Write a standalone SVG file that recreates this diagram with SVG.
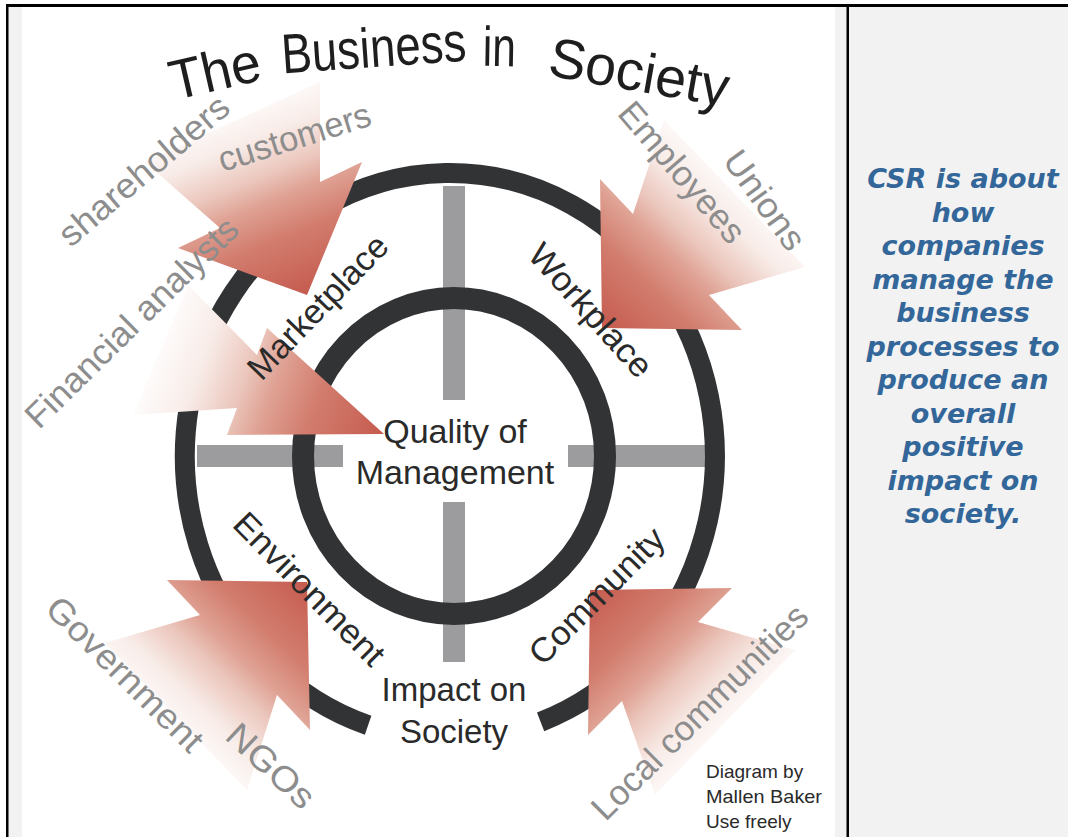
<svg xmlns="http://www.w3.org/2000/svg" width="1068" height="837" viewBox="0 0 1068 837">
<style>
.ring{fill:none;stroke:#323335}
.bar{fill:#9c9c9e}
.ttl{font-family:"Liberation Sans",Arial,sans-serif;fill:#1e1e1e;font-size:56px;text-anchor:middle}
.lbl{font-family:"Liberation Sans",Arial,sans-serif;fill:#2a2a2a;font-size:34px;text-anchor:middle}
.out{font-family:"Liberation Sans",Arial,sans-serif;fill:#8d8d8d;font-size:35px;text-anchor:middle}
.cred{font-family:"Liberation Sans",Arial,sans-serif;fill:#2a2a2a;font-size:19px}
.csr{font-family:"DejaVu Sans",Verdana,sans-serif;font-weight:bold;font-style:italic;fill:#336699;font-size:27px;text-anchor:middle}
</style>
<defs>
<linearGradient id="gA" gradientUnits="userSpaceOnUse" x1="307" y1="295" x2="227" y2="101">
<stop offset="0" stop-color="#c55b4f"/><stop offset="0.3" stop-color="#d27d6e"/><stop offset="0.48" stop-color="#dfa294"/><stop offset="0.6" stop-color="#ebc6bc"/><stop offset="0.78" stop-color="#f8ece8"/><stop offset="1" stop-color="#ffffff"/>
</linearGradient>
<linearGradient id="gB" gradientUnits="userSpaceOnUse" x1="602" y1="328" x2="746" y2="175">
<stop offset="0" stop-color="#c55b4f"/><stop offset="0.3" stop-color="#d27d6e"/><stop offset="0.48" stop-color="#dfa294"/><stop offset="0.6" stop-color="#ebc6bc"/><stop offset="0.78" stop-color="#f8ece8"/><stop offset="1" stop-color="#ffffff"/>
</linearGradient>
<linearGradient id="gC" gradientUnits="userSpaceOnUse" x1="307" y1="582" x2="163" y2="735">
<stop offset="0" stop-color="#c55b4f"/><stop offset="0.3" stop-color="#d27d6e"/><stop offset="0.48" stop-color="#dfa294"/><stop offset="0.6" stop-color="#ebc6bc"/><stop offset="0.78" stop-color="#f8ece8"/><stop offset="1" stop-color="#ffffff"/>
</linearGradient>
<linearGradient id="gD" gradientUnits="userSpaceOnUse" x1="590" y1="590" x2="737" y2="740">
<stop offset="0" stop-color="#c55b4f"/><stop offset="0.3" stop-color="#d27d6e"/><stop offset="0.48" stop-color="#dfa294"/><stop offset="0.6" stop-color="#ebc6bc"/><stop offset="0.78" stop-color="#f8ece8"/><stop offset="1" stop-color="#ffffff"/>
</linearGradient>
<linearGradient id="gE" gradientUnits="userSpaceOnUse" x1="384" y1="434" x2="150" y2="345">
<stop offset="0" stop-color="#c55b4f"/><stop offset="0.3" stop-color="#d27d6e"/><stop offset="0.48" stop-color="#dfa294"/><stop offset="0.6" stop-color="#ebc6bc"/><stop offset="0.78" stop-color="#f8ece8"/><stop offset="1" stop-color="#ffffff"/>
</linearGradient>
</defs>

<g id="frame">
<rect x="0" y="0" width="1068" height="837" fill="#ffffff"/>
<rect x="8" y="7" width="839" height="830" fill="#f2f2f2"/>
<rect x="849" y="7" width="219" height="830" fill="#f2f2f2"/>
<rect x="22" y="7" width="813" height="830" fill="#ffffff"/>
<rect x="6" y="4" width="1062" height="3" fill="#000"/>
<rect x="6" y="4" width="2.5" height="833" fill="#000"/>
<rect x="846.5" y="4" width="2.5" height="833" fill="#000"/>
</g>

<g id="title">
<text class="ttl" transform="translate(219,90) rotate(-13)" textLength="92" lengthAdjust="spacingAndGlyphs">The</text>
<text class="ttl" transform="translate(375,67) rotate(-4)" textLength="185" lengthAdjust="spacingAndGlyphs">Business</text>
<text class="ttl" transform="translate(499,66) rotate(1)" textLength="33" lengthAdjust="spacingAndGlyphs">in</text>
<text class="ttl" transform="translate(636,91) rotate(10)" textLength="182" lengthAdjust="spacingAndGlyphs">Society</text>
</g>

<g id="cross">
<rect class="bar" x="443" y="186" width="22" height="214"/>
<rect class="bar" x="443" y="502" width="22" height="160"/>
<rect class="bar" x="197" y="445" width="146" height="22"/>
<rect class="bar" x="568" y="445" width="141" height="22"/>
</g>

<g id="rings">
<path class="ring" stroke-width="20" d="M 540.6 721.9 A 265 283 0 1 0 368.1 725.2"/>
<ellipse class="ring" stroke-width="22" cx="454" cy="456" rx="151" ry="158"/>
</g>

<g id="connectors">
<polygon id="arrow-customers" fill="url(#gA)" points="307,295 362,162 320,182 320,82 145,162 220,228 178,248"/>
<polygon id="arrow-employees" fill="url(#gB)" points="602,328 600,179 633,214 664,120 805,267 709,295 742,330"/>
<polygon id="arrow-government" fill="url(#gC)" points="307,582 167,580 200,615 105,643 247,790 277,695 310,730"/>
<polygon id="arrow-local" fill="url(#gD)" points="590,590 732,588 698,622 795,650 655,795 622,701 588,735"/>
<polygon id="arrow-financial" fill="url(#gE)" points="384,434 267,328 257,355 188,285 133,415 237,408 227,435"/>
</g>

<g id="stakeholders">
<text class="out" transform="translate(298,148.5) rotate(-17.4)" textLength="158" lengthAdjust="spacingAndGlyphs">customers</text>
<text class="out" transform="translate(151.5,179.6) rotate(-40.4)" textLength="212" lengthAdjust="spacingAndGlyphs">shareholders</text>
<text class="out" transform="translate(140,331) rotate(-44.5)" textLength="283" lengthAdjust="spacingAndGlyphs">Financial analysts</text>
<text class="out" transform="translate(673,180) rotate(49.3)" textLength="174" lengthAdjust="spacingAndGlyphs">Employees</text>
<text class="out" transform="translate(755,207) rotate(54.2)" textLength="114" lengthAdjust="spacingAndGlyphs">Unions</text>
<text class="out" transform="translate(116.6,682.6) rotate(44.5)" textLength="205" lengthAdjust="spacingAndGlyphs">Government</text>
<text class="out" transform="translate(262.6,774.6) rotate(43)" textLength="107" lengthAdjust="spacingAndGlyphs">NGOs</text>
<text class="out" transform="translate(708,720.5) rotate(-44.8)" textLength="289" lengthAdjust="spacingAndGlyphs">Local communities</text>
</g>

<g id="sectors">
<text class="lbl" transform="translate(326,315) rotate(-46)" textLength="186" lengthAdjust="spacingAndGlyphs">Marketplace</text>
<text class="lbl" transform="translate(582,318) rotate(48)" textLength="167" lengthAdjust="spacingAndGlyphs">Workplace</text>
<text class="lbl" transform="translate(301,597) rotate(45.5)" textLength="200" lengthAdjust="spacingAndGlyphs">Environment</text>
<text class="lbl" transform="translate(605,604) rotate(-45.3)" textLength="177" lengthAdjust="spacingAndGlyphs">Community</text>
</g>

<g id="center">
<text class="lbl" x="455" y="443">Quality of</text>
<text class="lbl" x="455" y="484">Management</text>
</g>

<g id="impact">
<text class="lbl" x="454" y="701" style="font-size:33px">Impact on</text>
<text class="lbl" x="454" y="743" style="font-size:33px">Society</text>
</g>

<g id="credit">
<text class="cred" x="706" y="778">Diagram by</text>
<text class="cred" x="706" y="803" textLength="116" lengthAdjust="spacingAndGlyphs">Mallen Baker</text>
<text class="cred" x="706" y="828">Use freely</text>
</g>

<g id="csr-note">
<text class="csr" x="963" y="188">CSR is about</text>
<text class="csr" x="963" y="221.5">how</text>
<text class="csr" x="963" y="255">companies</text>
<text class="csr" x="963" y="288.5">manage the</text>
<text class="csr" x="963" y="322">business</text>
<text class="csr" x="963" y="355.5">processes to</text>
<text class="csr" x="963" y="389">produce an</text>
<text class="csr" x="963" y="422.5">overall</text>
<text class="csr" x="963" y="456">positive</text>
<text class="csr" x="963" y="489.5">impact on</text>
<text class="csr" x="963" y="523">society.</text>
</g>
</svg>
